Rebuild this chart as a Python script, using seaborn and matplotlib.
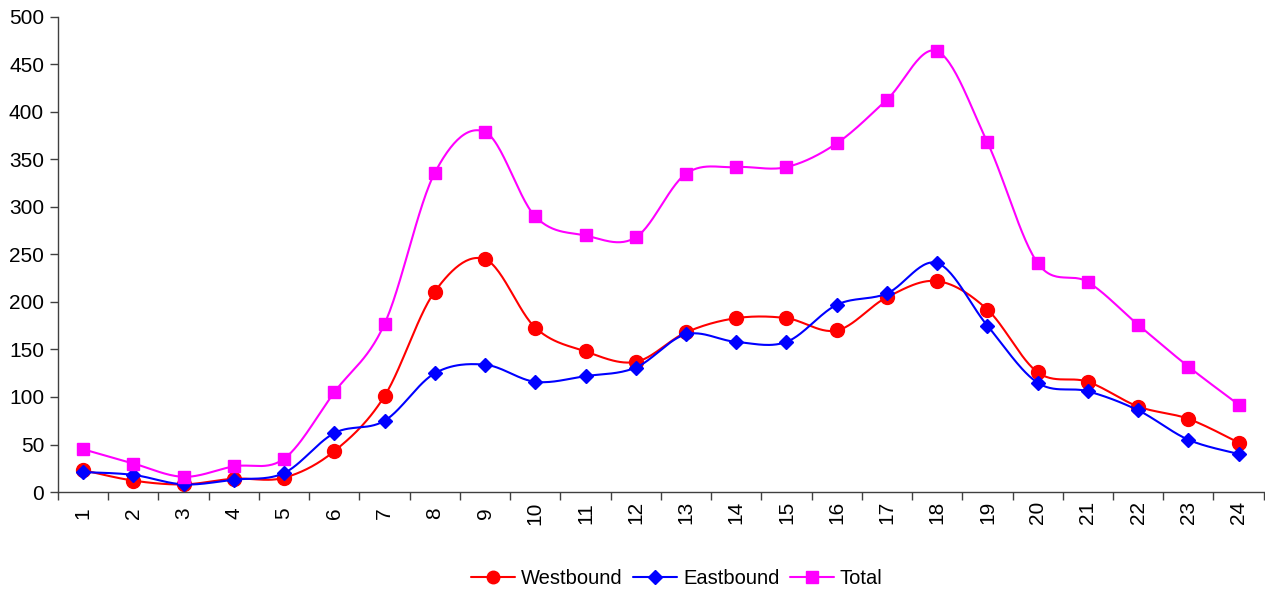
import numpy as np
import pandas as pd
import matplotlib
matplotlib.use("Agg")
import matplotlib.pyplot as plt
import seaborn as sns

hours = list(range(1, 25))
westbound = [23, 12, 8, 14, 15, 43, 101, 211, 245, 173, 148, 137, 168, 183, 183, 170, 205, 222, 192, 126, 116, 90, 77, 52]
eastbound = [21, 18, 8, 13, 20, 62, 75, 125, 134, 116, 122, 131, 166, 158, 158, 197, 209, 241, 175, 115, 106, 86, 55, 40]
total = [45, 30, 16, 27, 35, 105, 177, 336, 379, 290, 270, 268, 335, 342, 342, 367, 413, 464, 368, 241, 221, 176, 132, 92]
y_ticks = [0, 50, 100, 150, 200, 250, 300, 350, 400, 450, 500]

series = [
    ("Westbound", westbound, "#FF0000", "o", 10),
    ("Eastbound", eastbound, "#0000FF", "D", 7.5),
    ("Total", total, "#FF00FF", "s", 9),
]


def smooth(xs, ys, n=30):
    xs = np.asarray(xs, float)
    ys = np.asarray(ys, float)
    P = np.column_stack([xs, ys])
    P = np.vstack([P[0], P, P[-1]])
    out = []
    t = np.linspace(0, 1, n)
    for i in range(1, len(P) - 2):
        p0, p1, p2, p3 = P[i - 1], P[i], P[i + 1], P[i + 2]
        b1 = p1 + (p2 - p0) / 6
        b2 = p2 - (p3 - p1) / 6
        seg = ((1 - t) ** 3)[:, None] * p1 + (3 * (1 - t) ** 2 * t)[:, None] * b1 \
            + (3 * (1 - t) * t ** 2)[:, None] * b2 + (t ** 3)[:, None] * p2
        out.append(seg if i == 1 else seg[1:])
    S = np.vstack(out)
    return S[:, 0], S[:, 1]


sns.set_theme(style="white")
plt.rcParams['font.family'] = ['Liberation Sans', 'DejaVu Sans']
plt.rcParams['text.color'] = 'black'
plt.rcParams['xtick.color'] = 'black'
plt.rcParams['ytick.color'] = 'black'

fig = plt.figure(figsize=(12.65, 5.92), dpi=100)
ax = fig.add_axes([58 / 1265, 1 - 492 / 592, 1 - 58 / 1265 - 0.001, (492 - 17) / 592])

handles = []
for name, vals, color, marker, ms in series:
    sx, sy = smooth(hours, vals)
    sns.lineplot(x=sx, y=sy, ax=ax, color=color, linewidth=1.5, sort=False, estimator=None)
    ax.plot(hours, vals, linestyle="none", marker=marker, markersize=ms,
            color=color, markeredgecolor=color)
    handles.append(plt.Line2D([], [], color=color, linewidth=1.5, marker=marker,
                              markersize=ms * 0.9, label=name))

ax.set_xlim(0.5, 24.5)
ax.set_ylim(0, 500)
ax.set_yticks(y_ticks)
ax.set_yticklabels([str(v) for v in y_ticks], fontsize=15)
ax.set_xticks(hours)
ax.set_xticklabels([str(h) for h in hours], rotation=90, fontsize=15, va="center")
ax.set_xticks(np.arange(0.5, 25, 1), minor=True)
ax.tick_params(axis="x", which="major", length=0, pad=15, labelcolor="black")
ax.tick_params(axis="x", which="minor", length=6, width=1, color="#404040", direction="out", bottom=True)
ax.tick_params(axis="y", which="major", length=6, width=1, color="#404040", direction="out", left=True,
               pad=4, labelcolor="black")
for s in ["top", "right"]:
    ax.spines[s].set_visible(False)
for s in ["left", "bottom"]:
    ax.spines[s].set_color("#404040")
    ax.spines[s].set_linewidth(1)
ax.set_xlabel("")
ax.set_ylabel("")
ax.grid(False)

leg = fig.legend(handles=handles, loc="center", bbox_to_anchor=(0.535, 1 - 579 / 592), ncol=3,
                 frameon=False, fontsize=14.5, handlelength=2.2, columnspacing=0.5, handletextpad=0.3)
for txt in leg.get_texts():
    txt.set_color("black")

fig.savefig("out.png", dpi=100)
